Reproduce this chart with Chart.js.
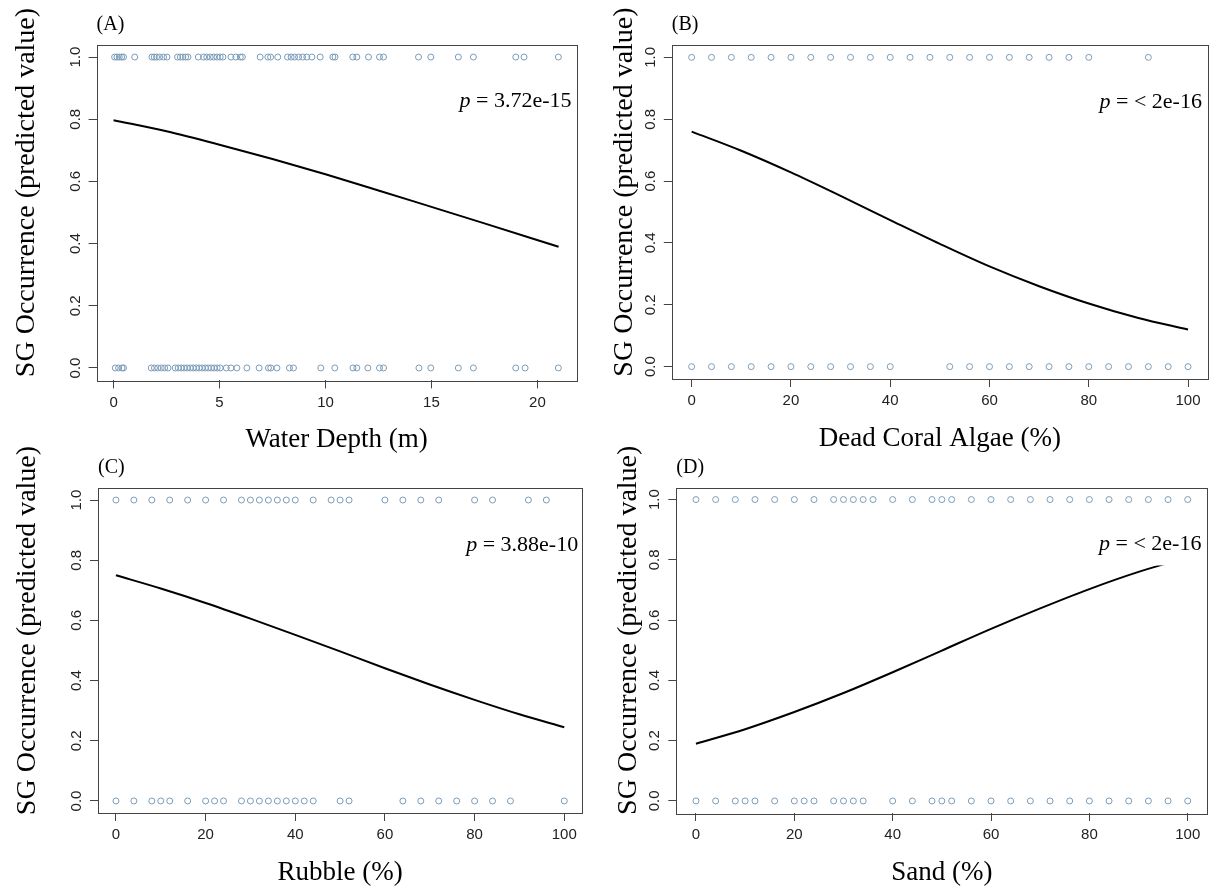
<!DOCTYPE html>
<html>
<head>
<meta charset="utf-8">
<script src="https://cdn.jsdelivr.net/npm/chart.js@4.4.0/dist/chart.umd.min.js"></script>
<style>
body { margin: 0; background: #fff; }
#page { position: relative; width: 1218px; height: 896px; overflow: hidden; background: #fff; }
#page canvas { position: absolute; }
</style>
</head>
<body>
<div id="page"></div>
<script>
// ---- tick labels ----
const occTicks = [0, 0.2, 0.4, 0.6, 0.8, 1.0];
const depthTicks = [0, 5, 10, 15, 20];
const pctTicks = [0, 20, 40, 60, 80, 100];

// ---- (A) water depth ----
const depthPresent = [0.05, 0.16, 0.27, 0.38, 0.47, 1.0, 1.81, 1.92, 2.03, 2.17, 2.36, 2.52, 3.02, 3.15, 3.27, 3.4, 3.51,
    4.0, 4.25, 4.4, 4.56, 4.72, 4.88, 5.03, 5.16, 5.54, 5.77, 5.98, 6.08, 6.92, 7.28, 7.41, 7.75, 8.21, 8.38, 8.54, 8.73,
    8.92, 9.12, 9.36, 9.75, 10.35, 10.45, 11.29, 11.48, 12.03, 12.55, 12.74, 14.39, 14.97, 16.27, 16.98, 18.98, 19.37, 20.99];
const depthAbsent = [0.08, 0.24, 0.4, 0.47, 1.78, 1.93, 2.09, 2.25, 2.41, 2.57, 2.91, 3.05, 3.19, 3.33, 3.47, 3.62, 3.76,
    3.9, 4.04, 4.18, 4.33, 4.47, 4.61, 4.75, 4.89, 5.03, 5.32, 5.54, 5.82, 6.29, 6.87, 7.31, 7.42, 7.71, 8.3, 8.49, 9.78,
    10.44, 11.3, 11.48, 12.0, 12.55, 12.74, 14.41, 14.97, 16.27, 16.98, 18.98, 19.42, 20.99];
const depthCurveX = [0, 2.5, 5, 7.5, 10, 12.5, 15, 17.5, 21];
const depthCurveY = [0.797, 0.761, 0.718, 0.672, 0.623, 0.571, 0.518, 0.465, 0.39];

// ---- (B) dead coral algae ----
const coralPresent = [0, 4, 8, 12, 16, 20, 24, 28, 32, 36, 40, 44, 48, 52, 56, 60, 64, 68, 72, 76, 80, 92];
const coralAbsent = [0, 4, 8, 12, 16, 20, 24, 28, 32, 36, 40, 52, 56, 60, 64, 68, 72, 76, 80, 84, 88, 92, 96, 100];
const coralCurveX = [0, 10, 20, 30, 40, 50, 60, 70, 80, 90, 100];
const coralCurveY = [0.76, 0.698, 0.628, 0.552, 0.474, 0.397, 0.324, 0.26, 0.204, 0.157, 0.12];

// ---- (C) rubble ----
const rubblePresent = [0, 4, 8, 12, 16, 20, 24, 28, 30, 32, 34, 36, 38, 40, 44, 48, 50, 52, 60, 64, 68, 72, 80, 84, 92, 96];
const rubbleAbsent = [0, 4, 8, 10, 12, 16, 20, 22, 24, 28, 30, 32, 34, 36, 38, 40, 42, 44, 50, 52, 64, 68, 72, 76, 80, 84, 88, 100];
const rubbleCurveX = [0, 10, 20, 30, 40, 50, 60, 70, 80, 90, 100];
const rubbleCurveY = [0.75, 0.706, 0.658, 0.606, 0.552, 0.497, 0.441, 0.387, 0.336, 0.288, 0.245];

// ---- (D) sand ----
const sandPresent = [0, 4, 8, 12, 16, 20, 24, 28, 30, 32, 34, 36, 40, 44, 48, 50, 52, 56, 60, 64, 68, 72, 76, 80, 84, 88, 92, 96, 100];
const sandAbsent = [0, 4, 8, 10, 12, 16, 20, 22, 24, 28, 30, 32, 34, 40, 44, 48, 50, 52, 56, 60, 64, 68, 72, 76, 80, 84, 88, 92, 96, 100];
const sandCurveX = [0, 10, 20, 30, 40, 50, 60, 70, 80, 90, 100];
const sandCurveY = [0.19, 0.238, 0.295, 0.358, 0.427, 0.499, 0.571, 0.639, 0.703, 0.76, 0.808];

const yTitle = "SG Occurrence (predicted value)";
const serif = '"Liberation Serif", "Times New Roman", serif';
const sans = '"Liberation Sans", Arial, sans-serif';
const ptColor = "#7b9cb8";

// canvas rect and plot box are in page pixels
const panels = [
    { tag: "(A)", xTitle: "Water Depth (m)", p: "3.72e-15", present: depthPresent, absent: depthAbsent,
      cx: depthCurveX, cy: depthCurveY, xTicks: depthTicks, xmin: -0.8, xmax: 21.85,
      canvas: { l: 0, t: 0, w: 600, h: 470 }, box: { l: 96.6, t: 44.6, r: 576.6, b: 380.4 }, yGap: 70, pr: 5, pfy: 0.17, pbg: false },
    { tag: "(B)", xTitle: "Dead Coral Algae (%)", p: "< 2e-16", present: coralPresent, absent: coralAbsent,
      cx: coralCurveX, cy: coralCurveY, xTicks: pctTicks, xmin: -4, xmax: 104,
      canvas: { l: 560, t: 0, w: 658, h: 470 }, box: { l: 671.8, t: 45, r: 1207.9, b: 379 }, yGap: 47, pr: 6, pfy: 0.17, pbg: true },
    { tag: "(C)", xTitle: "Rubble (%)", p: "3.88e-10", present: rubblePresent, absent: rubbleAbsent,
      cx: rubbleCurveX, cy: rubbleCurveY, xTicks: pctTicks, xmin: -4, xmax: 104,
      canvas: { l: 0, t: 440, w: 600, h: 456 }, box: { l: 98, t: 488, r: 582.2, b: 813 }, yGap: 70, pr: 4, pfy: 0.175, pbg: false },
    { tag: "(D)", xTitle: "Sand (%)", p: "< 2e-16", present: sandPresent, absent: sandAbsent,
      cx: sandCurveX, cy: sandCurveY, xTicks: pctTicks, xmin: -4, xmax: 104,
      canvas: { l: 560, t: 440, w: 658, h: 456 }, box: { l: 676.3, t: 487.5, r: 1207.4, b: 813 }, yGap: 48, pr: 6, pfy: 0.175, pbg: true }
];

var framePlugin = {
    id: "frame",
    afterDatasetsDraw: function (chart, args, o) {
        const ctx = chart.ctx, ca = chart.chartArea, xs = chart.scales.x, ys = chart.scales.y;
        ctx.save();

        // p value, right aligned inside the box (white patch hides the curve end)
        const py = ca.top + o.pfy * (ca.bottom - ca.top);
        ctx.font = "italic 22px " + serif;
        const w1 = ctx.measureText("p").width;
        ctx.font = "22px " + serif;
        const rest = " = " + o.p;
        const w2 = ctx.measureText(rest).width;
        const px = ca.right - o.pr - w1 - w2;
        if (o.pbg) {
            ctx.fillStyle = "#fff";
            ctx.fillRect(px - 4, py - 17, ca.right - (px - 4), 38);
        }
        ctx.fillStyle = "#000";
        ctx.textAlign = "left";
        ctx.textBaseline = "middle";
        ctx.font = "italic 22px " + serif;
        ctx.fillText("p", px, py);
        ctx.font = "22px " + serif;
        ctx.fillText(rest, px + w1, py);

        // plot box
        ctx.strokeStyle = "#444";
        ctx.lineWidth = 1;
        ctx.strokeRect(Math.round(ca.left) + 0.5, Math.round(ca.top) + 0.5, Math.round(ca.right - ca.left), Math.round(ca.bottom - ca.top));

        // tick labels (R style: y labels rotated)
        ctx.fillStyle = "#222";
        ctx.font = "15px " + sans;
        ctx.textAlign = "center";
        xs.ticks.forEach(function (t) {
            ctx.fillText(String(t.value), xs.getPixelForValue(t.value), ca.bottom + 22);
        });
        ys.ticks.forEach(function (t) {
            ctx.save();
            ctx.translate(ca.left - 21, ys.getPixelForValue(t.value));
            ctx.rotate(-Math.PI / 2);
            ctx.fillText(t.value.toFixed(1), 0, 0);
            ctx.restore();
        });

        // axis titles
        ctx.fillStyle = "#000";
        ctx.font = "27px " + serif;
        ctx.fillText(o.xTitle, (ca.left + ca.right) / 2, ca.bottom + 60);
        ctx.save();
        ctx.translate(ca.left - o.yGap, (ca.top + ca.bottom) / 2 - 20);
        ctx.rotate(-Math.PI / 2);
        ctx.font = "28px " + serif;
        ctx.fillText(yTitle, 0, 0);
        ctx.restore();

        // panel tag
        ctx.textAlign = "left";
        ctx.font = "20px " + serif;
        ctx.fillText(o.tag, ca.left, ca.top - 20);
        ctx.restore();
    }
};

const page = document.getElementById("page");

panels.forEach(function (p) {
    const cv = document.createElement("canvas");
    cv.width = p.canvas.w;
    cv.height = p.canvas.h;
    cv.style.left = p.canvas.l + "px";
    cv.style.top = p.canvas.t + "px";
    cv.style.width = p.canvas.w + "px";
    cv.style.height = p.canvas.h + "px";
    page.appendChild(cv);

    const axisGrid = { display: true, drawOnChartArea: false, drawTicks: true, tickLength: 8, color: "#444", lineWidth: 1 };

    new Chart(cv, {
        type: "scatter",
        data: {
            datasets: [
                { data: p.present.map(function (x) { return { x: x, y: 1 }; }),
                  pointRadius: 3, pointBorderWidth: 1, borderColor: ptColor, backgroundColor: "rgba(0,0,0,0)" },
                { data: p.absent.map(function (x) { return { x: x, y: 0 }; }),
                  pointRadius: 3, pointBorderWidth: 1, borderColor: ptColor, backgroundColor: "rgba(0,0,0,0)" },
                { data: p.cx.map(function (x, i) { return { x: x, y: p.cy[i] }; }),
                  showLine: true, borderColor: "#000", borderWidth: 2, pointRadius: 0, cubicInterpolationMode: "monotone" }
            ]
        },
        options: {
            responsive: false,
            animation: false,
            events: [],
            devicePixelRatio: 1,
            layout: { padding: { left: 0, bottom: 0, top: p.box.t - p.canvas.t, right: p.canvas.l + p.canvas.w - p.box.r } },
            plugins: {
                legend: { display: false },
                tooltip: { enabled: false },
                frame: { tag: p.tag, xTitle: p.xTitle, p: p.p, yGap: p.yGap, pr: p.pr, pfy: p.pfy, pbg: p.pbg }
            },
            scales: {
                x: {
                    type: "linear", min: p.xmin, max: p.xmax,
                    afterBuildTicks: function (s) { s.ticks = p.xTicks.map(function (v) { return { value: v }; }); },
                    afterFit: function (s) { s.height = p.canvas.t + p.canvas.h - p.box.b; },
                    ticks: { display: false },
                    grid: axisGrid,
                    border: { display: false }
                },
                y: {
                    type: "linear", min: -0.04, max: 1.04,
                    afterBuildTicks: function (s) { s.ticks = occTicks.map(function (v) { return { value: v }; }); },
                    afterFit: function (s) { s.width = p.box.l - p.canvas.l; },
                    ticks: { display: false },
                    grid: axisGrid,
                    border: { display: false }
                }
            }
        },
        plugins: [framePlugin]
    });
});
</script>
</body>
</html>
